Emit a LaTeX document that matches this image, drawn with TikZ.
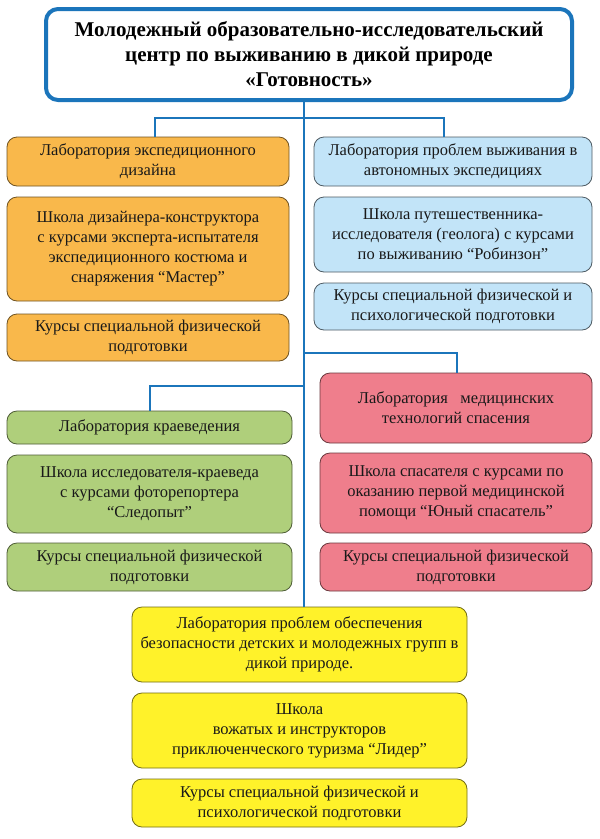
\documentclass[tikz,border=0pt]{standalone}
\usepackage{fontspec}
\setmainfont{Liberation Serif}
\definecolor{trunk}{HTML}{1B75BB}
\definecolor{cOrange}{HTML}{F9B84B}
\definecolor{cBlue}{HTML}{C2E4F8}
\definecolor{cRed}{HTML}{EF7E8C}
\definecolor{cGreen}{HTML}{AFCF7B}
\definecolor{cYellow}{HTML}{FFF22A}
\begin{document}
\begin{tikzpicture}[x=1pt,y=-1pt,
  box/.style={line width=0.8pt, rounded corners=10pt, align=center, inner sep=0pt,
    font=\fontsize{16.5}{20}\selectfont, text=black!90},
  obox/.style={box, fill=cOrange, draw=cOrange!45!black, minimum width=282pt},
  bbox/.style={box, fill=cBlue, draw=cBlue!40!black, minimum width=278pt},
  rbox/.style={box, fill=cRed, draw=cRed!45!black, minimum width=272pt},
  gbox/.style={box, fill=cGreen, draw=cGreen!45!black, minimum width=285pt},
  ybox/.style={box, fill=cYellow, draw=cYellow!45!black, minimum width=335pt},
  titlebox/.style={draw=trunk, line width=4pt, rounded corners=12pt, fill=white, align=center,
    minimum width=526pt, minimum height=91pt, inner sep=0pt,
    font=\bfseries\fontsize{21}{25}\selectfont},
  link/.style={draw=trunk, line width=2pt}
]
\fill[white] (0,0) rectangle (600,839);
\useasboundingbox (0,0) rectangle (600,839);

\node[titlebox] (title) at (309,54.5) {Молодежный образовательно-исследовательский\\центр по выживанию в дикой природе\\«Готовность»};

\node[obox, minimum height=49pt] (o1) at (148,161.5) {Лаборатория экспедиционного\\дизайна};
\node[obox, minimum height=104pt] (o2) at (148,249) {Школа дизайнера-конструктора\\с курсами эксперта-испытателя\\экспедиционного костюма и\\снаряжения “Мастер”};
\node[obox, minimum height=47pt] (o3) at (148,337.5) {Курсы специальной физической\\подготовки};

\node[bbox, minimum height=49pt] (b1) at (453,161.5) {Лаборатория проблем выживания в\\автономных экспедициях};
\node[bbox, minimum height=75pt] (b2) at (453,234.5) {Школа путешественника-\\исследователя (геолога) с курсами\\по выживанию “Робинзон”};
\node[bbox, minimum height=47pt] (b3) at (453,306.5) {Курсы специальной физической и\\психологической подготовки};

\node[rbox, minimum height=70pt] (r1) at (456,408) {Лаборатория~~ медицинских\\технологий спасения};
\node[rbox, minimum height=80pt] (r2) at (456,493) {Школа спасателя с курсами по\\оказанию первой медицинской\\помощи “Юный спасатель”};
\node[rbox, minimum height=48pt] (r3) at (456,567) {Курсы специальной физической\\подготовки};

\node[gbox, minimum height=33pt] (g1) at (149.5,427.5) {Лаборатория краеведения};
\node[gbox, minimum height=78pt] (g2) at (149.5,494) {Школа исследователя-краеведа\\с курсами фоторепортера\\“Следопыт”};
\node[gbox, minimum height=48pt] (g3) at (149.5,567) {Курсы специальной физической\\подготовки};

\node[ybox, minimum height=75pt] (y1) at (299.5,644.5) {Лаборатория проблем обеспечения\\безопасности детских и молодежных групп в\\дикой природе.};
\node[ybox, minimum height=75pt] (y2) at (299.5,730.5) {Школа\\вожатых и инструкторов\\приключенческого туризма “Лидер”};
\node[ybox, minimum height=48pt] (y3) at (299.5,803) {Курсы специальной физической и\\психологической подготовки};

\coordinate (tr) at (304,0);
\coordinate (j1) at (304,118);
\coordinate (j2) at (304,353);
\coordinate (j3) at (304,386);

\draw[link] (title.south -| tr) -- (y1.north -| tr);
\draw[link] ([xshift=7pt]o1.north) |- (j1) -| ([xshift=-9pt]b1.north);
\draw[link] (j2) -| ([xshift=1pt]r1.north);
\draw[link] (j3) -| ([xshift=0.5pt]g1.north);
\end{tikzpicture}
\end{document}
